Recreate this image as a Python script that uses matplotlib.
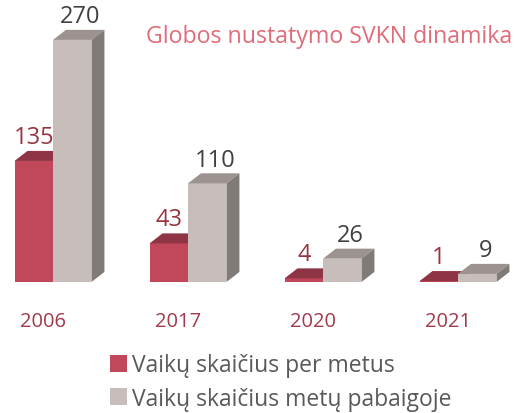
import matplotlib.pyplot as plt
from matplotlib.patches import Polygon, Patch

years = ["2006", "2017", "2020", "2021"]
per_year = [135, 43, 4, 1]      # Vaikų skaičius per metus
year_end = [270, 110, 26, 9]    # Vaikų skaičius metų pabaigoje
series_names = ["Vaikų skaičius per metus", "Vaikų skaičius metų pabaigoje"]

# colours: front, top, side
red = ("#C0485A", "#8E3444", "#7A2D3A")
grey = ("#C7BEBB", "#9C9391", "#817B78")

plt.rcParams['font.family'] = ['Open Sans', 'DejaVu Sans']

fig = plt.figure(figsize=(5.19, 4.14), dpi=100)
ax = fig.add_axes([0, 131 / 414, 1, 269 / 414])
ax.set_xlim(-53 / 135, (519 - 53) / 135)
ax.set_ylim(0, 300)
ax.axis('off')

w = 0.285      # bar width in category units
dx = 0.096     # 3d depth, x
dy = 11.2      # 3d depth, y (value units)


def bar3d(x0, h, cols):
    x1 = x0 + w
    ax.add_patch(Polygon([(x0, 0), (x1, 0), (x1, h), (x0, h)], closed=True,
                         facecolor=cols[0], edgecolor='none'))
    ax.add_patch(Polygon([(x0, h), (x1, h), (x1 + dx, h + dy), (x0 + dx, h + dy)],
                         closed=True, facecolor=cols[1], edgecolor='none'))
    ax.add_patch(Polygon([(x1, 0), (x1 + dx, dy), (x1 + dx, h + dy), (x1, h)],
                         closed=True, facecolor=cols[2], edgecolor='none'))


for i in range(len(years)):
    bar3d(i - w, per_year[i], red)
    bar3d(i, year_end[i], grey)
    ax.text(i - w / 2, per_year[i] + dy + 16, str(per_year[i]), ha='center', va='center',
            fontsize=17, color="#963540")
    ax.text(i + w / 2 + 0.06, year_end[i] + dy + 15, str(year_end[i]), ha='center', va='center',
            fontsize=17, color="#404040")
    ax.text(i - 0.075, -43.5, years[i], ha='center', va='center', fontsize=14.5,
            color="#A03A4C", clip_on=False)

fig.text(512 / 519, 1 - 37 / 414, "Globos nustatymo SVKN dinamika", ha='right', va='center',
         fontsize=16.7, color="#E06C7A")

handles = [Patch(facecolor=red[0]), Patch(facecolor=grey[0])]
fig.legend(handles, series_names, loc='upper left', bbox_to_anchor=(99 / 519, 1 - 343 / 414),
           frameon=False, fontsize=16.5, handlelength=0.72, handleheight=0.72,
           handletextpad=0.2, labelspacing=0.4, borderpad=0, labelcolor="#595959")

fig.savefig("out.png", dpi=100)
